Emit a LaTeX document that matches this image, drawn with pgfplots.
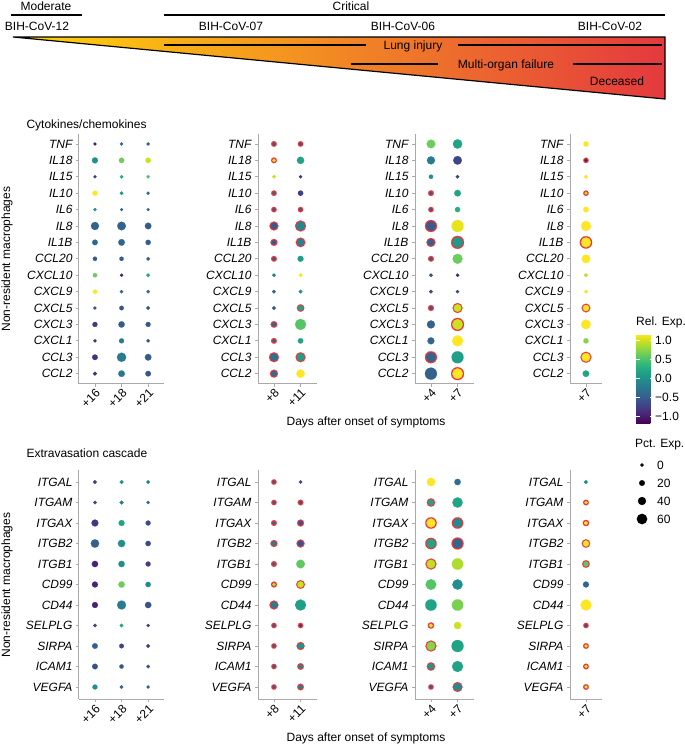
\documentclass[border=0pt]{standalone}
\usepackage{fontspec}
\setmainfont{Liberation Sans}
\usepackage{pgfplots}
\usepackage{pgfplotstable}
\pgfplotsset{compat=1.18}

\definecolor{axgray}{HTML}{AAAAAA}
\definecolor{sigred}{HTML}{E8353A}
\definecolor{ygold}{HTML}{FFD60A}
\definecolor{yorange}{HTML}{F8AA2C}
\definecolor{yred}{HTML}{E4393E}

\newcommand\fs{\fontsize{12}{14}\selectfont}

% x = day column, y = gene row (bottom = 1), rel = Rel. Exp., pct = Pct. Exp., sig = red ring
% Cytokines/chemokines: 15 TNF ... 1 CCL2
\pgfplotstableread{
x y rel pct sig
1 15 -1.0 2 0
2 15 -0.4 4 0
3 15 -0.4 4 0
1 14 0.0 25 0
2 14 0.65 20 0
3 14 1.0 20 0
1 13 -0.8 2 0
2 13 0.25 4 0
3 13 0.5 4 0
1 12 1.2 17 0
2 12 0.0 6 0
3 12 -0.4 3 0
1 11 0.0 3 0
2 11 -0.4 1 0
3 11 -0.4 1 0
1 10 -0.45 42 0
2 10 -0.45 47 0
3 10 -0.5 30 0
1 9 -0.4 22 0
2 9 -0.4 30 0
3 9 -0.5 19 0
1 8 -0.5 11 0
2 8 -0.5 11 0
3 8 -0.5 6 0
1 7 0.65 11 0
2 7 -1.0 3 0
3 7 0.3 8 0
1 6 1.2 11 0
2 6 -0.4 4 0
3 6 -0.4 4 0
1 5 -0.6 3 0
2 5 -0.55 13 0
3 5 -0.55 8 0
1 4 -0.8 17 0
2 4 -0.5 28 0
3 4 -0.55 17 0
1 3 -0.8 4 0
2 3 -0.2 17 0
3 3 -0.6 4 0
1 2 -0.85 22 0
2 2 -0.2 52 0
3 2 -0.5 30 0
1 1 -0.9 8 0
2 1 -0.25 30 0
3 1 -0.55 22 0
}\cytoA
\pgfplotstableread{
x y rel pct sig
1 15 -0.5 2 1
2 15 -0.6 1 1
1 14 1.2 3 1
2 14 0.2 36 0
1 13 1.0 6 0
2 13 -0.9 3 0
1 12 -0.4 1 1
2 12 -0.75 20 0
1 11 -0.5 0 1
2 11 -0.5 0 1
1 10 -0.5 30 1
2 10 -0.1 47 1
1 9 -0.5 13 1
2 9 -0.15 35 1
1 8 -0.5 3 1
2 8 0.15 25 0
1 7 -0.1 6 0
2 7 1.2 8 0
1 6 -0.4 6 0
2 6 0.0 6 0
1 5 -0.5 8 0
2 5 0.2 17 1
1 4 -0.4 10 1
2 4 0.55 67 0
1 3 -0.4 3 1
2 3 0.2 20 0
1 2 -0.3 38 1
2 2 0.15 38 1
1 1 -0.35 22 1
2 1 1.2 45 0
}\cytoB
\pgfplotstableread{
x y rel pct sig
1 15 0.65 47 0
2 15 0.2 53 0
1 14 -0.2 42 0
2 14 -0.7 47 0
1 13 0.0 11 0
2 13 -0.7 6 0
1 12 -0.5 3 1
2 12 0.2 30 0
1 11 -0.5 0 1
2 11 0.3 19 0
1 10 -0.5 55 1
2 10 1.1 75 0
1 9 -0.45 30 1
2 9 0.1 63 1
1 8 -0.5 3 1
2 8 0.65 58 0
1 7 -0.6 6 0
2 7 -0.95 4 0
1 6 -0.7 6 0
2 6 -0.7 4 0
1 5 -0.5 5 1
2 5 1.0 38 1
1 4 -0.45 42 0
2 4 1.0 63 1
1 3 -0.4 33 0
2 3 1.2 67 0
1 2 -0.4 55 1
2 2 0.15 75 0
1 1 -0.45 75 0
2 1 1.2 63 1
}\cytoC
\pgfplotstableread{
x y rel pct sig
1 15 1.2 19 0
1 14 -1.0 0 1
1 13 1.2 8 0
1 12 1.0 0 1
1 11 1.2 22 0
1 10 1.2 58 0
1 9 1.2 58 1
1 8 1.2 47 0
1 7 0.95 8 0
1 6 1.2 8 0
1 5 1.2 27 1
1 4 1.2 55 0
1 3 0.75 19 0
1 2 1.2 47 1
1 1 0.2 30 0
}\cytoD

% Extravasation cascade: 11 ITGAL ... 1 VEGFA
\pgfplotstableread{
x y rel pct sig
1 11 -0.7 8 0
2 11 0.0 8 0
3 11 -0.15 6 0
1 10 -0.7 6 0
2 10 -0.2 8 0
3 10 -0.4 4 0
1 9 -0.8 33 0
2 9 0.2 25 0
3 9 -0.65 17 0
1 8 -0.45 45 0
2 8 0.0 36 0
3 8 -0.65 20 0
1 7 -0.95 28 0
2 7 0.0 28 0
3 7 -0.75 17 0
1 6 -0.95 25 0
2 6 0.65 28 0
3 6 -0.05 20 0
1 5 -0.95 25 0
2 5 -0.2 50 0
3 5 -0.6 28 0
1 4 -0.7 6 0
2 4 0.2 6 0
3 4 -0.8 2 0
1 3 -0.45 22 0
2 3 -0.7 14 0
3 3 -0.8 8 0
1 2 -0.6 22 0
2 2 -0.55 11 0
3 2 -0.6 6 0
1 1 0.0 17 0
2 1 -0.45 6 0
3 1 -0.45 4 0
}\extA
\pgfplotstableread{
x y rel pct sig
1 11 -0.5 0 1
2 11 -0.7 4 0
1 10 -0.5 0 1
2 10 -0.6 2 1
1 9 -0.4 3 1
2 9 -0.6 13 1
1 8 -0.2 13 1
2 8 -0.6 22 1
1 7 -0.45 3 1
2 7 0.6 47 0
1 6 0.9 5 1
2 6 1.0 27 1
1 5 -0.2 30 1
2 5 0.15 67 0
1 4 -0.5 0 1
2 4 -0.8 0 1
1 3 -0.5 0 1
2 3 0.05 22 1
1 2 -0.5 0 1
2 2 -0.1 10 1
1 1 -0.5 0 1
2 1 -0.15 10 1
}\extB
\pgfplotstableread{
x y rel pct sig
1 11 1.2 45 0
2 11 -0.35 28 0
1 10 0.2 25 1
2 10 0.2 61 0
1 9 1.2 50 1
2 9 -0.05 50 1
1 8 0.2 50 1
2 8 -0.4 55 1
1 7 0.95 47 1
2 7 0.9 70 0
1 6 0.55 64 0
2 6 0.0 61 0
1 5 0.2 70 0
2 5 0.7 70 0
1 4 1.2 8 1
2 4 1.0 36 0
1 3 0.75 47 1
2 3 0.2 75 0
1 2 0.05 25 1
2 2 0.2 67 0
1 1 -0.5 0 1
2 1 -0.05 38 1
}\extC
\pgfplotstableread{
x y rel pct sig
1 11 0.0 8 0
1 10 1.2 2 1
1 9 1.2 8 1
1 8 1.2 25 1
1 7 0.6 18 1
1 6 -0.4 25 0
1 5 1.2 67 0
1 4 -0.6 0 1
1 3 1.2 2 1
1 2 1.2 2 1
1 1 1.2 2 1
}\extD

\pgfplotsset{
  dp/.style={
    scale only axis, anchor=south west, clip=false,
    axis x line*=bottom, axis y line*=left,
    x axis line style={-}, y axis line style={-},
    axis line style={draw=axgray, line width=1pt},
    tick align=outside, major tick length=3pt,
    tick style={draw=axgray, line width=0.8pt},
    colormap/viridis, point meta min=-1.18, point meta max=1.18,
    ticklabel style={font=\fs, text=black},
    yticklabel style={font=\fs\itshape},
    xticklabel style={rotate=45, anchor=north east, inner sep=1pt},
  },
  cyto/.style={height=249.4pt, ymin=0.4, ymax=15.6, ytick={1,...,15},
    yticklabels={CCL2,CCL3,CXCL1,CXCL3,CXCL5,CXCL9,CXCL10,CCL20,IL1B,IL8,IL6,IL10,IL15,IL18,TNF}},
  extr/.style={height=229.6pt, ymin=0.4, ymax=11.6, ytick={1,...,11},
    yticklabels={VEGFA,ICAM1,SIRPA,SELPLG,CD44,CD99,ITGB1,ITGB2,ITGAX,ITGAM,ITGAL}},
  three/.style={width=85.1pt, xmin=0.4, xmax=3.6, xtick={1,2,3}},
  two/.style={width=58.5pt, xmin=0.4, xmax=2.6, xtick={1,2}},
  one/.style={width=31.9pt, xmin=0.4, xmax=1.6, xtick={1}},
}

% red ring for flagged points, then the coloured dot on top
\newcommand\dotlayer[1]{%
  \addplot[scatter, only marks, mark=*, scatter src=explicit,
    mark options={line width=0.1pt},
    visualization depends on={\thisrow{pct}\as\pct},
    visualization depends on={\thisrow{sig}\as\sig},
    scatter/use mapped color={draw=sigred, fill=sigred},
    scatter/@pre marker code/.append style={/tikz/mark size={\sig*(2.7+0.06*\pct)}}]
    table[x=x, y=y, meta=rel] {#1};
  \addplot[scatter, only marks, mark=*, scatter src=explicit,
    mark options={line width=0.1pt},
    visualization depends on={\thisrow{pct}\as\pct},
    scatter/use mapped color={draw=mapped color, fill=mapped color},
    scatter/@pre marker code/.append style={/tikz/mark size={1.5+0.06*\pct}}]
    table[x=x, y=y, meta=rel] {#1};
}

\begin{document}
\begin{tikzpicture}
\useasboundingbox (0pt,0pt) rectangle (685pt,-745pt);

% header
\begin{scope}[font=\fs]
  \node[anchor=base] at (46pt,-10.3pt) {Moderate};
  \draw[line width=1.2pt] (11pt,-15pt) -- (82pt,-15pt);
  \node[anchor=base] at (351pt,-10.3pt) {Critical};
  \draw[line width=1.2pt] (164pt,-15pt) -- (665pt,-15pt);
  \node[anchor=base] at (37pt,-30.3pt) {BIH-CoV-12};
  \node[anchor=base] at (231pt,-30.3pt) {BIH-CoV-07};
  \node[anchor=base] at (403pt,-30.3pt) {BIH-CoV-06};
  \node[anchor=base] at (610pt,-30.3pt) {BIH-CoV-02};
  \shade[left color=ygold, middle color=yorange, right color=yred]
    (13pt,-37pt) -- (665pt,-37pt) -- (665pt,-99pt) -- cycle;
  \draw[line width=1.2pt, line join=miter]
    (13pt,-37pt) -- (665pt,-37pt) -- (665pt,-99pt) -- cycle;
  \draw[line width=1.2pt] (164pt,-45pt) -- (366pt,-45pt);
  \draw[line width=1.2pt] (458pt,-45pt) -- (662pt,-45pt);
  \node[anchor=base] at (413pt,-49pt) {Lung injury};
  \draw[line width=1.2pt] (351pt,-64pt) -- (438pt,-64pt);
  \draw[line width=1.2pt] (573pt,-64pt) -- (662pt,-64pt);
  \node[anchor=base] at (506pt,-68.5pt) {Multi-organ failure};
  \node[anchor=base] at (617pt,-85.5pt) {Deceased};

  \node[anchor=west] at (23pt,-125pt) {Cytokines/chemokines};
  \node[anchor=west] at (23pt,-453pt) {Extravasation cascade};
  \node[rotate=90] at (7pt,-259pt) {Non-resident macrophages};
  \node[rotate=90] at (7pt,-585pt) {Non-resident macrophages};
  \node at (366pt,-422pt) {Days after onset of symptoms};
  \node at (366pt,-738pt) {Days after onset of symptoms};
  \node[anchor=west, inner sep=0pt] at (636pt,-322pt) {Rel. Exp.};
  \node[anchor=west, inner sep=0pt] at (635pt,-445pt) {Pct. Exp.};
\end{scope}

% cytokines / chemokines
\begin{axis}[dp, cyto, three, at={(79pt,-383.5pt)}, xticklabels={+16,+18,+21}]
\dotlayer{\cytoA}
\end{axis}
\begin{axis}[dp, cyto, two, at={(258pt,-383.5pt)}, xticklabels={+8,+11}]
\dotlayer{\cytoB}
\end{axis}
\begin{axis}[dp, cyto, two, at={(415pt,-383.5pt)}, xticklabels={+4,+7}]
\dotlayer{\cytoC}
\end{axis}
\begin{axis}[dp, cyto, one, at={(570pt,-383.5pt)}, xticklabels={+7},
  colorbar,
  colorbar style={
    at={(parent axis.north east)}, anchor=north west,
    xshift=25.6pt, yshift=-199.9pt,
    scale only axis, width=17pt, height=89pt,
    axis line style={draw=none},
    ytick={-1,-0.5,0,0.5,1}, yticklabels={−1.0,−0.5,0.0,0.5,1.0},
    yticklabel style={font=\fs, text=black, inner sep=2pt},
    ytick pos=both, yticklabel pos=right,
    tick align=inside, major tick length=3.5pt,
    ytick style={draw=white, line width=0.8pt},
  }]
\dotlayer{\cytoD}
\end{axis}

% extravasation cascade
\begin{axis}[dp, extr, three, at={(79pt,-699.3pt)}, xticklabels={+16,+18,+21}]
\dotlayer{\extA}
\end{axis}
\begin{axis}[dp, extr, two, at={(258pt,-699.3pt)}, xticklabels={+8,+11}]
\dotlayer{\extB}
\end{axis}
\begin{axis}[dp, extr, two, at={(415pt,-699.3pt)}, xticklabels={+4,+7}]
\dotlayer{\extC}
\end{axis}
\begin{axis}[dp, extr, one, at={(570pt,-699.3pt)}, xticklabels={+7}]
\dotlayer{\extD}
\end{axis}

% size key
\begin{axis}[scale only axis, hide axis, anchor=south west, at={(637pt,-519pt)},
  width=10pt, height=54pt, xmin=0, xmax=1, ymin=0, ymax=3, clip=false]
\addplot[only marks, mark=*, mark size=1.5pt, black] coordinates {(0.5,3)};
\addplot[only marks, mark=*, mark size=2.7pt, black] coordinates {(0.5,2)};
\addplot[only marks, mark=*, mark size=3.9pt, black] coordinates {(0.5,1)};
\addplot[only marks, mark=*, mark size=5.1pt, black] coordinates {(0.5,0)};
\node[anchor=west, inner sep=0pt, font=\fs] at (axis cs:2,3) {0};
\node[anchor=west, inner sep=0pt, font=\fs] at (axis cs:2,2) {20};
\node[anchor=west, inner sep=0pt, font=\fs] at (axis cs:2,1) {40};
\node[anchor=west, inner sep=0pt, font=\fs] at (axis cs:2,0) {60};
\end{axis}
\end{tikzpicture}
\end{document}
